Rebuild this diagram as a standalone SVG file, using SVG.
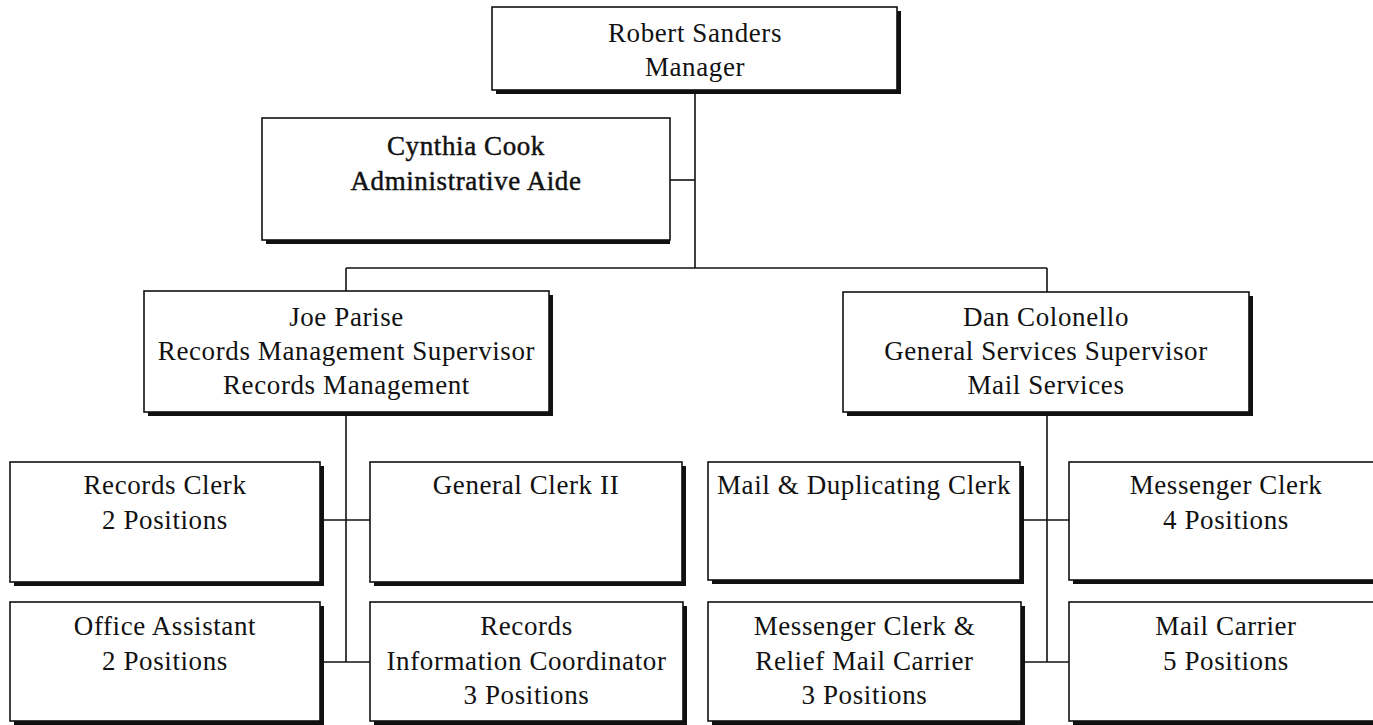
<svg xmlns="http://www.w3.org/2000/svg" width="1373" height="725" viewBox="0 0 1373 725">
<style>
.sh{fill:#111}
.box{fill:#fff;stroke:#111;stroke-width:1.6}
.t{font-family:"Liberation Serif","Times New Roman",serif;font-size:27px;letter-spacing:0.6px;text-anchor:middle;fill:#111}
.b{stroke:#111;stroke-width:0.45}
.c{stroke:#111;stroke-width:1.6;fill:none}
</style>
<rect width="1373" height="725" fill="#fff"/>
<g id="connectors">
<line class="c" x1="695" y1="90" x2="695" y2="268"/>
<line class="c" x1="670" y1="180" x2="695" y2="180"/>
<line class="c" x1="346" y1="268" x2="1047" y2="268"/>
<line class="c" x1="346" y1="268" x2="346" y2="291"/>
<line class="c" x1="1047" y1="268" x2="1047" y2="292"/>
<line class="c" x1="346" y1="412" x2="346" y2="662"/>
<line class="c" x1="1047" y1="412" x2="1047" y2="662"/>
<line class="c" x1="320" y1="520" x2="370" y2="520"/>
<line class="c" x1="320" y1="662" x2="370" y2="662"/>
<line class="c" x1="1020" y1="520" x2="1069" y2="520"/>
<line class="c" x1="1021" y1="662" x2="1069" y2="662"/>
</g>
<g id="manager">
<rect class="sh" x="496" y="11" width="405" height="83"/>
<rect class="box" x="492" y="7" width="405" height="83"/>
<text class="t" x="695" y="42">Robert Sanders</text>
<text class="t" x="695" y="76">Manager</text>
</g>
<g id="aide">
<rect class="sh" x="266" y="122" width="404" height="122"/>
<rect class="box" x="262" y="118" width="408" height="122"/>
<text class="t b" x="466" y="155">Cynthia Cook</text>
<text class="t b" x="466" y="190">Administrative Aide</text>
</g>
<g id="joe">
<rect class="sh" x="148" y="295" width="405" height="121"/>
<rect class="box" x="144" y="291" width="405" height="121"/>
<text class="t" x="346.5" y="326">Joe Parise</text>
<text class="t" x="346.5" y="360">Records Management Supervisor</text>
<text class="t" x="346.5" y="394">Records Management</text>
</g>
<g id="dan">
<rect class="sh" x="847" y="296" width="406" height="120"/>
<rect class="box" x="843" y="292" width="406" height="120"/>
<text class="t" x="1046" y="326">Dan Colonello</text>
<text class="t" x="1046" y="360">General Services Supervisor</text>
<text class="t" x="1046" y="394">Mail Services</text>
</g>
<g id="records-clerk">
<rect class="sh" x="14" y="466" width="310" height="120"/>
<rect class="box" x="10" y="462" width="310" height="120"/>
<text class="t" x="165" y="494">Records Clerk</text>
<text class="t" x="165" y="529">2 Positions</text>
</g>
<g id="general-clerk">
<rect class="sh" x="374" y="466" width="312" height="120"/>
<rect class="box" x="370" y="462" width="312" height="120"/>
<text class="t" x="526" y="494">General Clerk II</text>
</g>
<g id="office-assistant">
<rect class="sh" x="14" y="606" width="310" height="119"/>
<rect class="box" x="10" y="602" width="310" height="119"/>
<text class="t" x="165" y="635">Office Assistant</text>
<text class="t" x="165" y="670">2 Positions</text>
</g>
<g id="records-info">
<rect class="sh" x="374" y="606" width="313" height="119"/>
<rect class="box" x="370" y="602" width="313" height="119"/>
<text class="t" x="526.5" y="635">Records</text>
<text class="t" x="526.5" y="670">Information Coordinator</text>
<text class="t" x="526.5" y="704">3 Positions</text>
</g>
<g id="mail-dup">
<rect class="sh" x="712" y="466" width="312" height="118"/>
<rect class="box" x="708" y="462" width="312" height="118"/>
<text class="t" x="864" y="494">Mail &amp; Duplicating Clerk</text>
</g>
<g id="messenger-clerk">
<rect class="sh" x="1073" y="466" width="314" height="118"/>
<rect class="box" x="1069" y="462" width="314" height="118"/>
<text class="t" x="1226" y="494">Messenger Clerk</text>
<text class="t" x="1226" y="529">4 Positions</text>
</g>
<g id="messenger-relief">
<rect class="sh" x="712" y="606" width="313" height="119"/>
<rect class="box" x="708" y="602" width="313" height="119"/>
<text class="t" x="864.5" y="635">Messenger Clerk &amp;</text>
<text class="t" x="864.5" y="670">Relief Mail Carrier</text>
<text class="t" x="864.5" y="704">3 Positions</text>
</g>
<g id="mail-carrier">
<rect class="sh" x="1073" y="606" width="314" height="119"/>
<rect class="box" x="1069" y="602" width="314" height="119"/>
<text class="t" x="1226" y="635">Mail Carrier</text>
<text class="t" x="1226" y="670">5 Positions</text>
</g>
</svg>
